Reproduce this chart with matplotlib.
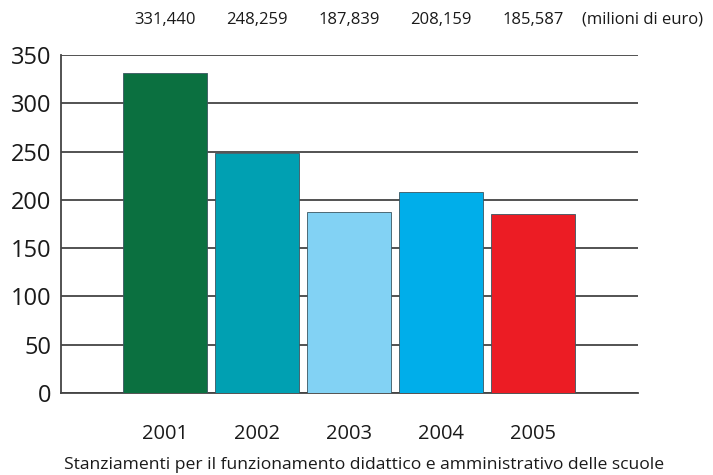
import matplotlib.pyplot as plt

years = ['2001', '2002', '2003', '2004', '2005']
values = [331.440, 248.259, 187.839, 208.159, 185.587]
value_labels = ['331,440', '248,259', '187,839', '208,159', '185,587']
colors = ['#0b7040', '#00a0b2', '#82d2f4', '#00aeea', '#ec1c24']
yticks = [0, 50, 100, 150, 200, 250, 300, 350]

plt.rcParams['font.family'] = ['Open Sans', 'DejaVu Sans']

fig = plt.figure(figsize=(7.13, 4.75), dpi=100)
ax = fig.add_axes([61/713, 1 - 393/475, 577/713, 338/475])

pos = list(range(len(years)))
ax.bar(pos, values, width=0.91, color=colors, edgecolor='#3a5560',
       linewidth=0.6, zorder=3)

ax.set_ylim(0, 350)
ax.set_xlim(-1.13, len(years) - 1 + 1.14)
ax.set_yticks(yticks)
ax.yaxis.grid(True, color='#444444', linewidth=1.3, zorder=0)
ax.set_axisbelow(True)
ax.tick_params(axis='y', length=0, pad=7, labelsize=17, labelcolor='#1a1a1a')
ax.set_xticks(pos)
ax.set_xticklabels(years)
ax.tick_params(axis='x', length=0, pad=22, labelsize=14.5, labelcolor='#1a1a1a')

for s in ['top', 'right']:
    ax.spines[s].set_visible(False)
for s in ['left', 'bottom']:
    ax.spines[s].set_color('#444444')
    ax.spines[s].set_linewidth(1.3)

# values above the plot
for x, lab in zip(pos, value_labels):
    ax.text(x, 1.105, lab, transform=ax.get_xaxis_transform(), ha='center',
            va='center', fontsize=12, color='#1a1a1a')
ax.text(len(years) - 1 + 1.19, 1.105, '(milioni di euro)', ha='center', va='center',
        transform=ax.get_xaxis_transform(), fontsize=12, color='#1a1a1a')

fig.text(364/713, 1 - 465/475,
         'Stanziamenti per il funzionamento didattico e amministrativo delle scuole',
         ha='center', va='center', fontsize=12.6, color='#1a1a1a')

fig.savefig('out.png', dpi=100, facecolor='white')
